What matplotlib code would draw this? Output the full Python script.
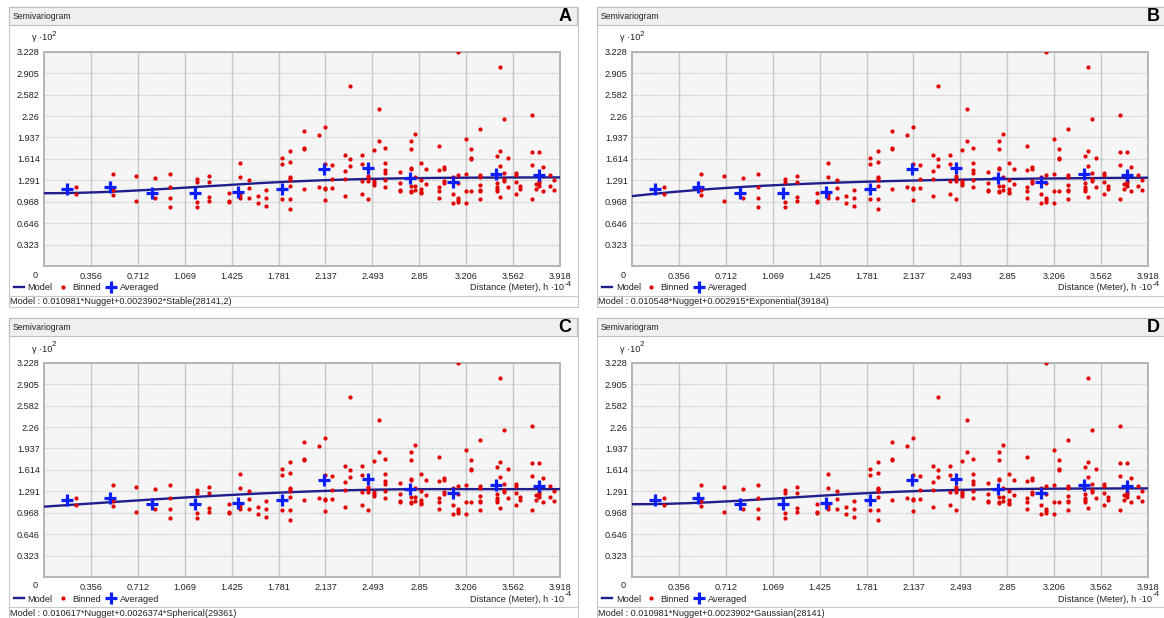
import numpy as np
import matplotlib
matplotlib.use("Agg")
import matplotlib.pyplot as plt
from matplotlib.patches import Rectangle

plt.rcParams['font.family'] = ['Liberation Sans', 'DejaVu Sans']

W, H = 1164, 618

# Binned semivariogram values (x: distance h*10^-4, y: gamma*10^2)
binned_x = [0.242, 0.242, 0.522, 0.522, 0.522, 0.702, 0.702, 0.841, 0.841, 0.960, 0.960, 0.960, 0.960,
            1.162, 1.162, 1.162, 1.162, 1.253, 1.253, 1.253, 1.253, 1.407, 1.407, 1.407,
            1.486, 1.486, 1.486, 1.486, 1.559, 1.559, 1.559, 1.625, 1.625, 1.688, 1.688, 1.688,
            1.807, 1.807, 1.807, 1.868, 1.868, 1.868, 1.868, 1.868, 1.868, 1.868, 1.868,
            1.977, 1.977, 1.977, 1.977, 2.085, 2.085, 2.131, 2.131, 2.131, 2.131, 2.131,
            2.186, 2.186, 2.186, 2.283, 2.283, 2.283, 2.283, 2.326, 2.326, 2.326,
            2.414, 2.414, 2.414, 2.414, 2.460, 2.460, 2.460, 2.460, 2.503, 2.503, 2.503, 2.503,
            2.546, 2.546, 2.589, 2.589, 2.589, 2.589, 2.589, 2.589, 2.705, 2.705, 2.705, 2.705,
            2.786, 2.786, 2.786, 2.786, 2.786, 2.786, 2.786, 2.819, 2.819, 2.819, 2.819,
            2.862, 2.862, 2.862, 2.862, 2.862, 2.897, 2.897,
            3.003, 3.003, 3.003, 3.003, 3.003, 3.041, 3.041, 3.041, 3.041, 3.105, 3.105, 3.105,
            3.142, 3.142, 3.142, 3.142, 3.142, 3.142, 3.206, 3.206, 3.206, 3.206,
            3.244, 3.244, 3.244, 3.244, 3.309, 3.309, 3.309, 3.309, 3.309, 3.309, 3.309,
            3.436, 3.436, 3.436, 3.436, 3.436, 3.464, 3.464, 3.464, 3.464, 3.494, 3.494, 3.494, 3.494,
            3.524, 3.524, 3.585, 3.585, 3.585, 3.585, 3.615, 3.615, 3.704, 3.704, 3.704, 3.704,
            3.734, 3.734, 3.757, 3.757, 3.757, 3.757, 3.790, 3.790, 3.840, 3.840, 3.873, 3.873]
binned_y = [1.197, 1.092, 1.392, 1.147, 1.076, 1.357, 0.981, 1.322, 1.026, 1.392, 1.192, 1.026, 0.886,
            1.307, 1.272, 0.971, 0.886, 1.357, 1.272, 1.046, 0.976, 1.097, 0.981, 0.961,
            1.548, 1.347, 1.076, 1.026, 1.302, 1.182, 1.026, 1.051, 0.951, 1.147, 1.026, 0.906,
            1.623, 1.538, 1.006, 1.739, 1.573, 1.347, 1.322, 1.297, 1.207, 1.006, 0.856,
            2.035, 1.774, 1.759, 1.167, 1.974, 1.197, 2.090, 1.538, 1.182, 1.162, 0.991,
            1.523, 1.307, 1.182, 1.674, 1.438, 1.312, 1.062, 2.712, 1.608, 1.508,
            1.674, 1.538, 1.277, 1.087, 1.358, 1.322, 1.287, 1.016, 1.749, 1.287, 1.257, 1.222,
            2.361, 1.889, 1.784, 1.558, 1.448, 1.408, 1.297, 1.192, 1.413, 1.257, 1.147, 1.132,
            1.889, 1.759, 1.483, 1.463, 1.207, 1.132, 1.117, 1.984, 1.347, 1.207, 1.147,
            1.558, 1.297, 1.162, 1.122, 1.097, 1.463, 1.237,
            1.809, 1.448, 1.197, 1.137, 1.026, 1.498, 1.468, 1.287, 1.257, 1.347, 1.087, 0.951,
            3.228, 1.368, 1.257, 1.021, 0.996, 0.966, 1.909, 1.393, 1.137, 0.946,
            1.764, 1.633, 1.618, 1.137, 2.060, 1.368, 1.337, 1.217, 1.147, 1.127, 1.016,
            1.663, 1.247, 1.197, 1.167, 1.137, 2.993, 1.739, 1.508, 1.041, 2.210, 1.408, 1.312, 1.287,
            1.623, 1.197, 1.408, 1.368, 1.267, 1.087, 1.207, 1.167, 2.280, 1.724, 1.523, 1.016,
            1.237, 1.162, 1.714, 1.282, 1.247, 1.212, 1.498, 1.132, 1.373, 1.207, 1.297, 1.147]

# Averaged values
avg_x = [0.171, 0.500, 0.823, 1.150, 1.476, 1.805, 2.123, 2.457, 2.781, 3.105, 3.431, 3.757]
avg_y = [1.162, 1.187, 1.097, 1.107, 1.122, 1.157, 1.468, 1.478, 1.332, 1.272, 1.393, 1.368]

x_tick_labels = ['0.356', '0.712', '1.069', '1.425', '1.781', '2.137', '2.493', '2.85',
                 '3.206', '3.562', '3.918']
y_tick_labels = ['0.323', '0.646', '0.968', '1.291', '1.614', '1.937', '2.26', '2.582',
                 '2.905', '3.228']
x_max = 3.918
y_max = 3.228

# Fitted models, one per panel
panel_letters = ['A', 'B', 'C', 'D']
model_names = ['Stable', 'Exponential', 'Spherical', 'Gaussian']
nuggets = [0.010981, 0.010548, 0.010617, 0.010981]
partial_sills = [0.0023902, 0.002915, 0.0026374, 0.0023902]
ranges_m = [28141, 39184, 29361, 28141]
model_texts = ['Model : 0.010981*Nugget+0.0023902*Stable(28141,2)',
               'Model : 0.010548*Nugget+0.002915*Exponential(39184)',
               'Model : 0.010617*Nugget+0.0026374*Spherical(29361)',
               'Model : 0.010981*Nugget+0.0023902*Gaussian(28141)']
offsets = [(0, 0), (588, 0), (0, 311), (588, 311)]


def model_gamma(name, nugget, psill, rng, h):
    r = h / rng
    if name in ('Stable', 'Gaussian'):
        f = 1 - np.exp(-3 * r ** 2)
    elif name == 'Exponential':
        f = 1 - np.exp(-3 * r)
    else:
        f = np.where(r < 1, 1.5 * r - 0.5 * r ** 3, 1.0)
    return nugget + psill * f


def fig_rect(x0, y0, x1, y1):
    return [x0 / W, 1 - y1 / H, (x1 - x0) / W, (y1 - y0) / H]


fig = plt.figure(figsize=(W / 100, H / 100), dpi=100)
bg = fig.add_axes([0, 0, 1, 1])
bg.set_xlim(0, W)
bg.set_ylim(H, 0)
bg.axis('off')

txt = dict(fontsize=6.6, color='#222222')
h_line = np.linspace(0, x_max, 300)

for i, (dx, dy) in enumerate(offsets):
    # window frame
    bg.add_patch(Rectangle((9 + dx, 7 + dy), 569, 300, fc='white', ec='#c8c8c8', lw=0.8))
    bg.add_patch(Rectangle((9 + dx, 7 + dy), 568, 18, fc='#f0f0f0', ec='#bdbdbd', lw=0.8))
    bg.plot([9 + dx, 578 + dx], [296 + dy] * 2, color='#c8c8c8', lw=0.8)
    bg.text(13 + dx, 16.5 + dy, 'Semivariogram', ha='left', va='center', fontsize=6.2, color='#222222')
    bg.text(565 + dx, 16.5 + dy, panel_letters[i], ha='center', va='center', fontsize=13,
            fontweight='bold', color='black')
    bg.text(32 + dx, 38 + dy, 'γ ·10', ha='left', va='center', **txt)
    bg.text(52 + dx, 34 + dy, '2', ha='left', va='center', fontsize=5.8, color='#222222')
    bg.text(35 + dx, 275 + dy, '0', ha='center', va='center', **txt)
    bg.text(564 + dx, 288 + dy, 'Distance (Meter), h ·10', ha='right', va='center', **txt)
    bg.text(564.5 + dx, 284 + dy, '-4', ha='left', va='center', fontsize=5.8, color='#222222')
    bg.text(10 + dx, 302 + dy, model_texts[i], ha='left', va='center', **txt)

    ax = fig.add_axes(fig_rect(44 + dx, 51.7 + dy, 560 + dx, 266.2 + dy))
    ax.set_facecolor('#f5f5f5')
    ax.set_xlim(0, x_max)
    ax.set_ylim(0, y_max)
    ax.set_xticks([float(t) for t in x_tick_labels])
    ax.set_xticklabels(x_tick_labels)
    ax.set_yticks([float(t) for t in y_tick_labels])
    ax.set_yticklabels(y_tick_labels)
    ax.tick_params(length=0, labelsize=6.6, labelcolor='#222222')
    ax.tick_params(axis='x', pad=4.2)
    ax.tick_params(axis='y', pad=3)
    ax.xaxis.grid(True, color='#c8c8c8', lw=1.0, ls='-')
    ax.yaxis.grid(True, color='#c4c4c4', lw=0.9, ls=(0, (1, 1)))
    ax.set_axisbelow(True)
    for s in ax.spines.values():
        s.set_color('#b4b4b4')
        s.set_linewidth(1.4)

    g = model_gamma(model_names[i], nuggets[i], partial_sills[i], ranges_m[i], h_line * 1e4) * 100
    ln, = ax.plot(h_line, g, color='#1e1e8c', lw=1.7, zorder=3)
    sc, = ax.plot(binned_x, binned_y, ls='none', marker='o', ms=2.0, color='#e00000',
                  mec='#e00000', zorder=4)
    av, = ax.plot(avg_x, avg_y, ls='none', marker='+', ms=8.5, mew=2.3, color='#0a1eff', zorder=5)

    leg = ax.legend([ln, sc, av], ['Model', 'Binned', 'Averaged'], ncol=3, frameon=False,
                    fontsize=6.6, handlelength=1.1, handletextpad=0.4, columnspacing=0.6,
                    borderpad=0, borderaxespad=0, loc='center left',
                    bbox_to_anchor=((14 + dx) / W, 1 - (288 + dy) / H),
                    bbox_transform=fig.transFigure)
    for t in leg.get_texts():
        t.set_color('#222222')

fig.savefig('out.png', dpi=100)
